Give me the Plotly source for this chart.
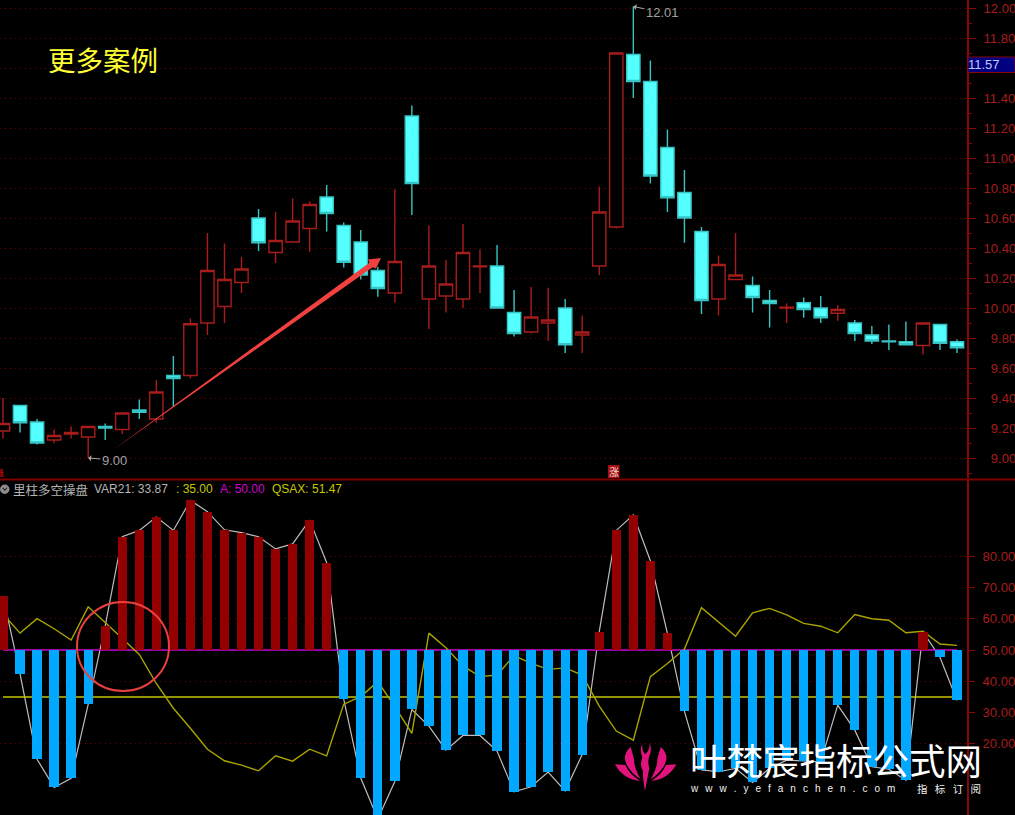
import plotly.graph_objects as go

W, H = 1015, 815
# ---------- data ----------
opens = [9.18,9.35,9.24,9.12,9.16,9.14,9.21,9.19,9.32,9.26,9.55,9.55,9.90,10.01,10.17,10.60,10.37,10.44,10.53,10.74,
         10.55,10.44,10.25,10.10,11.28,10.06,10.08,10.06,10.275,10.28,9.97,9.84,9.90,10.00,9.82,10.28,10.54,11.69,11.51,11.07,
         10.77,10.51,10.06,10.19,10.15,10.05,10.0,10.035,10.0,9.965,9.90,9.82,9.78,9.775,9.75,9.89,9.775]
highs = [9.40,9.35,9.26,9.19,9.21,9.21,9.23,9.30,9.39,9.52,9.68,9.93,10.50,10.43,10.34,10.66,10.64,10.73,10.71,10.82,
         10.57,10.52,10.275,10.79,11.35,10.55,10.32,10.56,10.39,10.42,10.12,10.14,10.135,10.06,9.95,10.81,11.70,12.01,11.65,11.19,
         10.92,10.54,10.35,10.50,10.21,10.12,10.03,10.07,10.08,10.02,9.92,9.88,9.89,9.91,9.90,9.89,9.79]
lows = [9.13,9.17,9.09,9.10,9.13,9.00,9.12,9.16,9.26,9.235,9.34,9.53,9.82,9.90,10.10,10.38,10.30,10.44,10.375,10.51,
        10.27,10.19,10.075,10.035,10.62,9.86,9.97,10.0,10.10,10.0,9.81,9.83,9.78,9.70,9.70,10.22,10.53,11.40,10.83,10.64,
        10.435,9.96,9.95,10.187,9.97,9.87,9.90,9.935,9.90,9.915,9.78,9.76,9.72,9.755,9.69,9.72,9.70]
closes = [9.23,9.235,9.10,9.15,9.17,9.21,9.20,9.30,9.305,9.44,9.53,9.895,10.25,10.19,10.26,10.435,10.45,10.58,10.69,10.63,
          10.305,10.22,10.13,10.31,10.83,10.28,10.16,10.37,10.28,10.0,9.83,9.94,9.92,9.755,9.84,10.64,11.70,11.51,10.88,10.735,
          10.60,10.05,10.29,10.22,10.07,10.03,10.006,9.99,9.935,9.99,9.83,9.78,9.775,9.755,9.90,9.765,9.735]
var21 = [67.2,42.4,15.1,6.1,9.0,32.6,57.7,86.2,88.2,92.5,88.2,97.8,94.2,88.4,87.5,86.2,82.3,83.9,91.5,77.9,
         34.3,9.1,-4.0,8.0,31.0,25.7,18.0,22.7,22.7,17.7,4.7,6.3,11.0,5.0,16.6,55.9,88.2,93.2,78.5,55.3,
         30.4,11.7,11.1,12.2,7.7,12.2,14.8,14.5,14.3,32.4,24.4,12.7,11.9,8.4,55.8,47.7,33.87]
qsax = [61.5,55.4,60.0,56.8,53.2,63.8,58.8,53.7,48.6,39.3,31.4,25.0,18.3,14.6,13.2,11.4,16.2,14.5,18.3,16.2,
        32.7,35.1,39.9,31.9,23.4,55.4,50.7,44.9,41.5,42.0,48.2,45.7,43.8,44.3,42.0,32.1,24.1,21.2,41.5,45.7,
        50.3,63.5,59.0,54.4,61.9,63.3,61.2,58.5,57.6,55.5,61.3,60.0,59.5,55.5,56.0,51.9,51.47]
level_a = 50.0
level_35 = 35.0
price_ticks = [9.0,9.2,9.4,9.6,9.8,10.0,10.2,10.4,10.6,10.8,11.0,11.2,11.4,11.6,11.8,12.0]
price_labels = ["9.00","9.20","9.40","9.60","9.80","10.00","10.20","10.40","10.60","10.80","11.00","11.20","11.40","","11.80","12.00"]
ind_ticks = [20,30,40,50,60,70,80]
ind_labels = ["20.00","30.00","40.00","50.00","60.00","70.00","80.00"]
grid_ticks = [20,40,60,80]

idx = list(range(len(opens)))
# ---------- style ----------
RED = "#a81c1c"; AXIS = "#8a0505"; GRID = "#700000"; CYAN = "#54ffff"; TEAL = "#38c4c4"
FONT = "Liberation Sans"; CJK = "Noto Sans CJK SC"
DOTS = "1px,4px"

def fx(p): return p / W
def fy(p): return 1 - p / H
def padl(s): return "\u2007" * (5 - len(s)) + s if s else s

fig = go.Figure()
fig.add_trace(go.Candlestick(
    x=idx, open=opens, high=highs, low=lows, close=closes, xaxis="x", yaxis="y", whiskerwidth=0,
    increasing=dict(line=dict(color=RED, width=1.4), fillcolor="#000000"),
    decreasing=dict(line=dict(color=TEAL, width=1.4), fillcolor=CYAN), hoverinfo="skip"))
fig.add_trace(go.Scatter(x=idx, y=var21, mode="lines", line=dict(color="#bdbdbd", width=1.2), xaxis="x2", yaxis="y2", hoverinfo="skip"))
fig.add_trace(go.Scatter(x=idx, y=[level_35]*len(idx), mode="lines", line=dict(color="#c4c400", width=1.4), xaxis="x2", yaxis="y2", hoverinfo="skip"))
fig.add_trace(go.Scatter(x=idx, y=[level_a]*len(idx), mode="lines", line=dict(color="#d000d0", width=1.4), xaxis="x2", yaxis="y2", hoverinfo="skip"))
fig.add_trace(go.Scatter(x=idx, y=qsax, mode="lines", line=dict(color="#aaa400", width=1.4), xaxis="x2", yaxis="y2", hoverinfo="skip"))
fig.add_trace(go.Bar(x=idx, y=[v - level_a for v in var21], base=level_a, width=0.55,
                     marker=dict(color=["#940000" if v >= level_a else "#00a8ff" for v in var21], line=dict(width=0)),
                     xaxis="x2", yaxis="y3", hoverinfo="skip"))

xr = [-3/17.036, 964/17.036]
xa = dict(domain=[0, 967/W], range=xr, visible=False, showgrid=False, zeroline=False, fixedrange=True)
tickfont = dict(family=FONT, size=13, color=RED)
fig.update_layout(
    width=W, height=H, margin=dict(l=0, r=0, t=0, b=0), paper_bgcolor="#000000", plot_bgcolor="#000000",
    showlegend=False, boxgap=0, boxgroupgap=0.22, bargap=0,
    xaxis=dict(xa, anchor="y", rangeslider=dict(visible=False)),
    xaxis2=dict(xa, anchor="y2"),
    yaxis=dict(domain=[1-478/H, 1], range=[12-470/150, 12+8/150], anchor="x", side="right",
               tickmode="array", tickvals=price_ticks, ticktext=[padl(s) for s in price_labels],
               ticks="outside", ticklen=7, tickcolor=AXIS, tickwidth=1, tickfont=tickfont, ticklabelstandoff=5,
               showgrid=True, griddash=DOTS, gridcolor=GRID, gridwidth=1, zeroline=False,
               showline=True, linecolor=AXIS, linewidth=2,
               minor=dict(dtick=0.1, ticks="outside", ticklen=3, tickcolor=AXIS, showgrid=False)),
    yaxis2=dict(domain=[0, 1-480/H], range=[50-165/3.13, 50+170/3.13], anchor="x2", side="right",
                tickmode="array", tickvals=grid_ticks, showticklabels=False, ticks="",
                showgrid=True, griddash=DOTS, gridcolor=GRID, gridwidth=1, zeroline=False,
                showline=True, linecolor=AXIS, linewidth=2),
    yaxis3=dict(domain=[0, 1-480/H], range=[50-165/3.13, 50+170/3.13], anchor="x2", side="right", overlaying="y2",
                tickmode="array", tickvals=ind_ticks, ticktext=ind_labels, ticks="outside", ticklen=7,
                tickcolor=AXIS, tickfont=tickfont, ticklabelstandoff=5, showgrid=False, zeroline=False),
)

shapes = []
def poly(d, color):
    shapes.append(dict(type="path", path=d, xref="paper", yref="paper", fillcolor=color, line=dict(width=0), layer="above"))
def pt(x, y): return f"{fx(x):.5f},{fy(y):.5f}"
def lotus(x, y): return pt(600 + x/3, 735 + y/3)

# separators
shapes.append(dict(type="line", xref="paper", yref="paper", x0=0, x1=1, y0=fy(479.5), y1=fy(479.5), line=dict(color="#800000", width=2), layer="above"))
# arrow
arrow = [(113,450),(369.4,262.7),(368,259.5),(381,258),(376,268.5),(372.6,267.3)]
poly("M" + " L".join(pt(*p) for p in arrow) + " Z", "#f04040")
# circle
shapes.append(dict(type="circle", xref="paper", yref="paper", x0=fx(77), x1=fx(169), y0=fy(691), y1=fy(602), line=dict(color="#e84040", width=2), layer="above"))
# price label box
shapes.append(dict(type="rect", xref="paper", yref="paper", x0=fx(968), x1=fx(1015), y0=fy(72.5), y1=fy(57), fillcolor="#000080", line=dict(color="#8a0505", width=1), layer="above"))
# badge
shapes.append(dict(type="rect", xref="paper", yref="paper", x0=fx(608), x1=fx(619.5), y0=fy(478), y1=fy(465), fillcolor="#a01010", line=dict(width=0), layer="above"))
# legend icon
shapes.append(dict(type="circle", xref="paper", yref="paper", x0=fx(0), x1=fx(9.5), y0=fy(494), y1=fy(484.5), fillcolor="#8c8c8c", line=dict(width=0), layer="above"))
poly(f"M{pt(2.2,488)} L{pt(4.8,491)} L{pt(7.4,488)} L{pt(6.6,487.4)} L{pt(4.8,489.4)} L{pt(3,487.4)} Z", "#1a1a1a")
# lotus logo
PINK = "#e0147c"
for s in (1, -1):
    mx = lambda x: 137 + s * (x - 137)
    poly(f"M{lotus(mx(45),88)} Q{lotus(mx(68),132)} {lotus(mx(120),138)} Q{lotus(mx(88),118)} {lotus(mx(76),90)} Z", PINK)
    poly(f"M{lotus(mx(92),36)} Q{lotus(mx(62),62)} {lotus(mx(84),96)} Q{lotus(mx(100),120)} {lotus(mx(122),132)} Q{lotus(mx(102),100)} {lotus(mx(102),72)} Z", PINK)
poly(f"M{lotus(127,26)} Q{lotus(118,42)} {lotus(127,68)} Q{lotus(118,90)} {lotus(129,108)} Q{lotus(128,132)} {lotus(135,168)} "
     f"Q{lotus(141,135)} {lotus(148,100)} Q{lotus(142,80)} {lotus(148,62)} Q{lotus(157,44)} {lotus(149,24)} "
     f"Q{lotus(150,46)} {lotus(135,58)} Q{lotus(124,44)} {lotus(127,26)} Z", PINK)
fig.update_layout(shapes=shapes)

def txt(s, x, y, size, color, family=FONT, anchor="left"):
    fig.add_annotation(text=s, x=fx(x), y=fy(y), xref="paper", yref="paper", showarrow=False, xanchor=anchor, yanchor="middle",
                       font=dict(family=family, size=size, color=color), borderpad=0, borderwidth=0)

txt("更多案例", 48, 59, 27.5, "#ffff33", CJK)
txt("11.57", 968, 65, 13, "#c4c8ff")
txt("涨", 613.8, 471.5, 10, "#ffd8d8", CJK, "center")
txt("涨", 0, 472, 8, "#ff1010", CJK, "center")
txt("里柱多空操盘", 13, 489, 12.5, "#b4b4b4", CJK)
txt("VAR21: 33.87", 94, 489, 12, "#b4b4b4")
txt(": 35.00", 176, 489, 12, "#c8c800")
txt("A: 50.00", 220, 489, 12, "#d000d0")
txt("QSAX: 51.47", 272, 489, 12, "#c8c800")
txt("叶梵宸指标公式网", 690, 759, 36.5, "#ffffff", CJK)
txt("\u2002\u2009".join("www.yefanchen.com"), 690, 788, 10, "#f0f0f0")
txt("\u2002\u2009".join("指标订阅"), 917, 788, 10.5, "#f0f0f0", CJK)

for xv, yv, label, ax, ay in [(37, 12.01, "12.01", 29, 6), (5, 9.00, "9.00", 26, 2)]:
    fig.add_annotation(text=label, x=xv, y=yv, xref="x", yref="y", showarrow=True, ax=ax, ay=ay, axref="pixel", ayref="pixel",
                       arrowhead=1, arrowsize=1, arrowwidth=1, arrowcolor="#a8a8a8", font=dict(family=FONT, size=13, color="#a0a0a0"))

fig.write_html("out.html", config=dict(displayModeBar=False),
               post_script="document.body.style.margin='0';document.body.style.overflow='hidden';document.body.style.background='#000';")
